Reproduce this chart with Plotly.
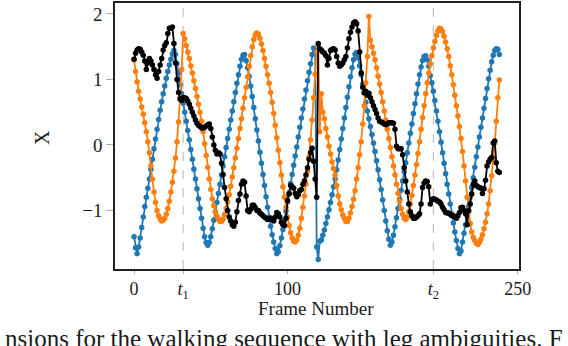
import plotly.graph_objects as go

# Frame index and the three tracked curves
frames = list(range(239))

blue = [
    -1.40, -1.57, -1.66, -1.56, -1.42, -1.26, -1.10, -0.94, -0.80, -0.66,
    -0.52, -0.37, -0.22, -0.06, 0.09, 0.24, 0.39, 0.53, 0.66, 0.78,
    0.90, 1.02, 1.12, 1.22, 1.31, 1.39, 1.44, 1.38, 1.24, 1.10,
    0.92, 0.78, 0.64, 0.50, 0.36, 0.22, 0.08, -0.07, -0.22, -0.37,
    -0.52, -0.67, -0.82, -0.97, -1.12, -1.27, -1.40, -1.49, -1.53, -1.49,
    -1.40, -1.28, -1.15, -1.02, -0.88, -0.74, -0.60, -0.46, -0.32, -0.18,
    -0.04, 0.10, 0.24, 0.38, 0.52, 0.66, 0.80, 0.94, 1.07, 1.20,
    1.31, 1.37, 1.38, 1.29, 1.18, 1.05, 0.90, 0.74, 0.57, 0.40,
    0.23, 0.06, -0.11, -0.28, -0.45, -0.62, -0.79, -0.95, -1.10, -1.24,
    -1.37, -1.48, -1.58, -1.66, -1.63, -1.54, -1.42, -1.29, -1.15, -1.01,
    -0.87, -0.73, -0.59, -0.45, -0.31, -0.17, -0.03, 0.12, 0.27, 0.41,
    0.55, 0.70, 0.84, 0.98, 1.11, 1.24, 1.38, 1.48, 1.44, -1.56,
    -1.75, -1.47, -1.45, -1.38, -1.30, -1.20, -1.10, -0.99, -0.88, -0.76,
    -0.64, -0.52, -0.38, -0.23, -0.07, 0.09, 0.25, 0.41, 0.57, 0.73,
    0.89, 1.04, 1.18, 1.30, 1.39, 1.41, 1.33, 1.21, 1.07, 0.93,
    0.79, 0.65, 0.52, 0.40, 0.28, 0.16, 0.03, -0.10, -0.24, -0.38,
    -0.53, -0.68, -0.84, -1.00, -1.16, -1.31, -1.44, -1.53, -1.48, -1.38,
    -1.25, -1.11, -0.97, -0.83, -0.69, -0.55, -0.41, -0.27, -0.12, 0.03,
    0.18, 0.32, 0.48, 0.63, 0.78, 0.93, 1.07, 1.19, 1.29, 1.35,
    1.36, 1.30, 1.20, 1.06, 0.95, 0.82, 0.68, 0.52, 0.36, 0.20,
    0.04, -0.12, -0.28, -0.44, -0.60, -0.75, -0.90, -1.05, -1.19, -1.33,
    -1.46, -1.58, -1.66, -1.62, -1.48, -1.35, -1.22, -1.08, -0.94, -0.80,
    -0.65, -0.50, -0.34, -0.18, -0.03, 0.12, 0.27, 0.41, 0.56, 0.71,
    0.86, 1.01, 1.14, 1.27, 1.37, 1.44, 1.47, 1.46, 1.38,
]

orange = [
    1.30, 1.12, 0.96, 0.82, 0.70, 0.58, 0.47, 0.34, 0.20, 0.05,
    -0.12, -0.32, -0.52, -0.72, -0.88, -1.00, -1.08, -1.13, -1.16, -1.15,
    -1.12, -1.06, -0.97, -0.86, -0.72, -0.57, -0.40, -0.20, 0.05, 0.35,
    0.72, 1.15, 1.70, 1.62, 1.52, 1.42, 1.32, 1.21, 1.10, 0.98,
    0.86, 0.74, 0.62, 0.50, 0.36, 0.20, 0.02, -0.16, -0.34, -0.52,
    -0.68, -0.82, -0.93, -1.02, -1.09, -1.14, -1.17, -1.17, -1.13, -1.06,
    -0.97, -0.87, -0.76, -0.63, -0.49, -0.35, -0.20, -0.05, 0.10, 0.25,
    0.40, 0.56, 0.72, 0.88, 1.04, 1.20, 1.36, 1.50, 1.61, 1.68,
    1.71, 1.69, 1.63, 1.54, 1.44, 1.32, 1.20, 1.07, 0.94, 0.80,
    0.65, 0.48, 0.30, 0.11, -0.08, -0.27, -0.46, -0.64, -0.80, -0.95,
    -1.10, -1.23, -1.34, -1.42, -1.47, -1.48, -1.45, -1.38, -1.27, -1.12,
    -0.95, -0.78, -0.60, -0.40, -0.18, 0.08, 0.38, 0.72, 1.08, 1.42,
    1.52, 0.20, 0.78, 0.50, 0.40, 0.25, 0.12, -0.02, -0.14, -0.26,
    -0.36, -0.46, -0.62, -0.78, -0.90, -0.99, -1.07, -1.12, -1.17, -1.17,
    -1.12, -1.04, -0.94, -0.83, -0.70, -0.52, -0.35, -0.15, 0.05, 0.32,
    0.60, 0.95, 1.35, 1.96, 1.60, 1.50, 1.40, 1.30, 1.18, 1.05,
    0.93, 0.80, 0.66, 0.52, 0.38, 0.24, 0.10, -0.04, -0.18, -0.32,
    -0.46, -0.60, -0.74, -0.86, -0.97, -1.06, -1.12, -1.14, -1.10, -1.02,
    -0.90, -0.77, -0.62, -0.46, -0.30, -0.13, 0.05, 0.24, 0.42, 0.60,
    0.78, 0.95, 1.10, 1.24, 1.36, 1.48, 1.58, 1.67, 1.74, 1.78,
    1.77, 1.73, 1.66, 1.57, 1.47, 1.35, 1.21, 1.07, 0.92, 0.76,
    0.60, 0.44, 0.28, 0.10, -0.10, -0.32, -0.55, -0.80, -1.02, -1.20,
    -1.33, -1.41, -1.46, -1.50, -1.52, -1.49, -1.44, -1.37, -1.28, -1.18,
    -1.05, -0.90, -0.70, -0.47, -0.22, 0.03, 0.36, 0.72, 0.99,
]

black = [
    1.31, 1.40, 1.45, 1.47, 1.46, 1.42, 1.37, 1.28, 1.15, 1.25,
    1.32, 1.28, 1.22, 1.15, 1.07, 1.02, 1.12, 1.22, 1.32, 1.45,
    1.52, 1.56, 1.70, 1.78, 1.78, 1.80, 1.55, 1.25, 1.00, 0.80,
    0.70, 0.68, 0.72, 0.72, 0.71, 0.67, 0.62, 0.56, 0.50, 0.44,
    0.38, 0.33, 0.30, 0.28, 0.26, 0.26, 0.27, 0.29, 0.31, 0.32,
    0.25, 0.12, 0.00, -0.08, -0.14, -0.12, -0.14, -0.28, -0.45, -0.65,
    -0.82, -1.00, -1.10, -1.16, -1.22, -1.24, -1.18, -1.02, -0.85, -0.75,
    -0.60, -0.55, -0.57, -0.78, -1.00, -1.02, -0.98, -0.92, -0.92, -0.96,
    -1.00, -1.00, -1.04, -1.06, -1.08, -1.10, -1.12, -1.14, -1.13, -1.12,
    -1.14, -1.16, -1.10, -1.03, -1.05, -1.10, -1.18, -1.22, -1.23, -1.12,
    -0.85, -0.75, -0.62, -0.64, -0.66, -0.74, -0.79, -0.76, -0.70, -0.68,
    -0.60, -0.55, -0.46, -0.35, -0.22, -0.12, -0.05, -0.25, -0.52, -0.80,
    1.55, 1.47, 1.45, 1.42, 1.40, 1.36, 1.22, 1.32, 1.44, 1.46,
    1.47, 1.45, 1.35, 1.25, 1.20, 1.22, 1.25, 1.30, 1.35, 1.48,
    1.62, 1.72, 1.80, 1.86, 1.88, 1.85, 1.74, 1.42, 1.10, 0.88,
    0.80, 0.82, 0.76, 0.79, 0.72, 0.66, 0.60, 0.54, 0.48, 0.41,
    0.36, 0.35, 0.34, 0.32, 0.31, 0.32, 0.34, 0.34, 0.34, 0.33,
    0.24, -0.02, -0.06, -0.06, -0.06, -0.15, -0.35, -0.55, -0.72, -0.90,
    -1.02, -1.08, -1.12, -1.12, -1.10, -1.08, -1.05, -0.90, -0.65, -0.58,
    -0.55, -0.56, -0.64, -0.90, -0.84, -0.82, -0.83, -0.84, -0.86, -0.87,
    -0.90, -0.95, -0.99, -1.03, -1.04, -1.04, -1.06, -1.08, -1.08, -1.10,
    -1.12, -1.08, -1.03, -0.96, -0.95, -1.00, -1.05, -1.22, -1.00, -0.90,
    -0.75, -0.60, -0.55, -0.62, -0.64, -0.65, -0.66, -0.74, -0.67, -0.54,
    -0.32, -0.26, -0.22, -0.19, 0.03, 0.06, -0.27, -0.40, -0.42,
]

# Event frames marked with dashed lines
event_frames = [32, 195]
event_labels = ["<i>t</i><sub>1</sub>", "<i>t</i><sub>2</sub>"]

x_ticks = [0, 100, 250]
y_ticks = [-1, 0, 1, 2]

serif = "Liberation Serif"
text_color = "#1a1a1a"

fig = go.Figure()

series = [(blue, "#1f77b4"), (orange, "#ff7f0e"), (black, "black")]
for values, color in series:
    fig.add_trace(go.Scatter(
        x=frames, y=values,
        mode="lines+markers",
        line=dict(color=color, width=1.8),
        marker=dict(color=color, size=5.5),
        showlegend=False,
    ))

for f in event_frames:
    fig.add_shape(
        type="line", x0=f, x1=f, y0=0, y1=1, yref="paper",
        line=dict(color="#b8b8b8", width=1, dash="dash"),
        layer="below",
    )

xt = sorted(x_ticks + event_frames)
xt_text = [event_labels[event_frames.index(v)] if v in event_frames else str(v) for v in xt]

fig.update_layout(
    width=568, height=346,
    margin=dict(l=115, r=49, t=1, b=77),
    paper_bgcolor="white",
    plot_bgcolor="white",
    font=dict(family=serif, size=19, color=text_color),
    xaxis=dict(
        range=[-12.4, 250.8],
        tickvals=xt, ticktext=xt_text,
        tickfont=dict(size=18),
        ticks="outside", ticklen=3, tickcolor="#aaaaaa", tickwidth=1,
        showline=True, linecolor="#222222", linewidth=1.6, mirror=True,
        showgrid=False, zeroline=False,
    ),
    yaxis=dict(
        range=[-1.894, 2.167],
        tickvals=y_ticks,
        ticktext=[str(v).replace("-", "\u2212") for v in y_ticks],
        ticks="outside", ticklen=7, tickcolor="#aaaaaa", tickwidth=1,
        showline=True, linecolor="#222222", linewidth=1.6, mirror=True,
        showgrid=False, zeroline=False,
    ),
    annotations=[
        dict(text="X", x=-0.181, y=0.496, xref="paper", yref="paper",
             xanchor="center", yanchor="middle",
             textangle=-90, showarrow=False, font=dict(size=20)),
        dict(text="Frame Number", x=0.4975, y=-0.149, xref="paper", yref="paper",
             xanchor="center", yanchor="middle",
             showarrow=False, font=dict(size=19)),
        dict(text="nsions for the walking sequence with leg ambiguities. F",
             x=-0.277, y=-0.262, xref="paper", yref="paper",
             xanchor="left", yanchor="middle", showarrow=False,
             font=dict(size=25)),
    ],
)

# drop the default page margin so the figure sits at the window corner
fig.write_html("out.html", config={"displayModeBar": False},
               post_script="document.body.style.margin='0px';")
